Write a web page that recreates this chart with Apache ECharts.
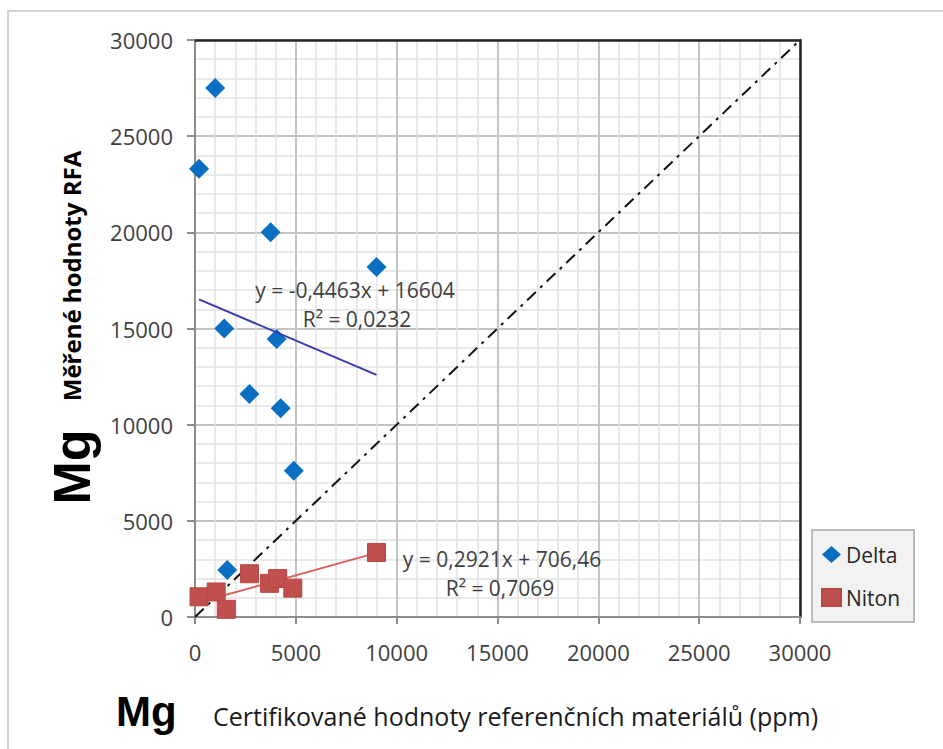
<!DOCTYPE html>
<html>
<head>
<meta charset="utf-8">
<script src="https://cdn.jsdelivr.net/npm/echarts@6/dist/echarts.min.js"></script>
<style>
html,body{margin:0;padding:0;background:#fff;}
#chart{width:943px;height:749px;}
</style>
</head>
<body>
<div id="chart"></div>
<script>
// ---- data ----
const deltaX = [1000, 200, 3750, 9000, 1450, 4050, 2700, 4250, 4900, 1600];
const deltaY = [27500, 23300, 20000, 18200, 15000, 14450, 11600, 10850, 7600, 2450];
const nitonX = [200, 1050, 1550, 2700, 3700, 4100, 4850, 9000];
const nitonY = [1050, 1300, 400, 2250, 1750, 2000, 1500, 3350];
const deltaTrend = [-0.4463, 16604];   // slope, intercept
const nitonTrend = [0.2921, 706.46];
const diagonal = [[0, 0], [30000, 30000]];
const xTicks = [0, 5000, 10000, 15000, 20000, 25000, 30000];
const yTicks = [0, 5000, 10000, 15000, 20000, 25000, 30000];
const deltaEq = ['y = -0,4463x + 16604', 'R² = 0,0232'];
const nitonEq = ['y = 0,2921x + 706,46', 'R² = 0,7069'];
const seriesNames = ['Delta', 'Niton'];
const xTitle = 'Certifikované hodnoty referenčních materiálů (ppm)';
const yTitle = 'Měřené hodnoty RFA';
const elementLabel = 'Mg';

// ---- build ----
const zip = (xs, ys) => xs.map((x, i) => [x, ys[i]]);
const trendPts = (xs, c) => {
  const lo = Math.min.apply(null, xs), hi = Math.max.apply(null, xs);
  return [[lo, c[0] * lo + c[1]], [hi, c[0] * hi + c[1]]];
};
const FONT = '"Open Sans", sans-serif';
const TXT = '#404040';
const axMin = xTicks[0], axMax = xTicks[xTicks.length - 1], axStep = xTicks[1] - xTicks[0];

function mainAxis(pos, tickLen) {
  return {
    type: 'value', position: pos, min: axMin, max: axMax, interval: axStep,
    axisLine: { show: true, onZero: false, lineStyle: { color: '#8c8c8c', width: 2 } },
    axisTick: { show: true, length: tickLen, lineStyle: { color: '#8c8c8c', width: 2 } },
    axisLabel: { fontFamily: FONT, fontSize: 22, color: TXT, margin: 22, formatter: v => String(v) },
    splitLine: { show: true, lineStyle: { color: '#c4c4c4', width: 2 } },
    minorTick: { show: false, splitNumber: 5 },
    minorSplitLine: { show: true, lineStyle: { color: '#e2e2e2', width: 1.5 } }
  };
}
function borderAxis(pos) {
  return {
    type: 'value', position: pos, min: axMin, max: axMax, interval: axStep,
    axisLine: { show: true, onZero: false, lineStyle: { color: '#262626', width: 2.5 } },
    axisTick: { show: false }, axisLabel: { show: false }, splitLine: { show: false }
  };
}

const chart = echarts.init(document.getElementById('chart'), null, { renderer: 'svg' });
const xa = mainAxis('bottom', 7);
const ya = mainAxis('left', 8);
xa.axisLabel.margin = 24;

chart.setOption({
  animation: false,
  backgroundColor: '#ffffff',
  grid: { left: 195, top: 40, width: 605, height: 577, containLabel: false },
  xAxis: [xa, borderAxis('top')],
  yAxis: [ya, borderAxis('right')],
  legend: {
    orient: 'vertical', left: 812, top: 530,
    data: [{ name: seriesNames[0], icon: 'diamond' }, { name: seriesNames[1], icon: 'rect' }],
    itemWidth: 19, itemHeight: 17, itemGap: 22,
    padding: [14, 14, 14, 9],
    backgroundColor: '#f2f2f2', borderColor: '#a6a6a6', borderWidth: 1.5, borderRadius: 0,
    textStyle: { fontFamily: FONT, fontSize: 21, color: '#262626' }
  },
  series: [
    {
      type: 'line', data: diagonal, symbol: 'none', silent: true, z: 3,
      lineStyle: { color: '#111', width: 2, type: [12, 6, 3, 6] }
    },
    {
      name: seriesNames[0], type: 'scatter', data: zip(deltaX, deltaY), symbol: 'diamond',
      symbolSize: 20, itemStyle: { color: '#0a6fc1', opacity: 1 }, z: 4
    },
    {
      name: seriesNames[1], type: 'scatter', data: zip(nitonX, nitonY), symbol: 'rect',
      symbolSize: 18, itemStyle: { color: '#c0504d', borderColor: '#b84743', borderWidth: 1, opacity: 1 }, z: 4
    },
    {
      type: 'line', data: trendPts(deltaX, deltaTrend), symbol: 'none', silent: true, z: 5,
      lineStyle: { color: '#3a3ab4', width: 2 }
    },
    {
      type: 'line', data: trendPts(nitonX, nitonTrend), symbol: 'none', silent: true, z: 3,
      lineStyle: { color: '#d9625d', width: 2 }
    }
  ],
  graphic: [
    { type: 'rect', shape: { x: 8, y: 11, width: 1000, height: 800 }, silent: true, z: -10,
      style: { fill: 'none', stroke: '#d2d2d2', lineWidth: 2 } },
    { type: 'text', x: 355, y: 290, z: 20,
      style: { text: deltaEq[0], font: '21px ' + FONT, fill: TXT, align: 'center', verticalAlign: 'middle' } },
    { type: 'text', x: 357, y: 319, z: 20,
      style: { text: deltaEq[1], font: '21px ' + FONT, fill: TXT, align: 'center', verticalAlign: 'middle' } },
    { type: 'text', x: 502, y: 559, z: 20,
      style: { text: nitonEq[0], font: '21px ' + FONT, fill: TXT, align: 'center', verticalAlign: 'middle' } },
    { type: 'text', x: 500, y: 588, z: 20,
      style: { text: nitonEq[1], font: '21px ' + FONT, fill: TXT, align: 'center', verticalAlign: 'middle' } },
    { type: 'text', x: 71, y: 276, rotation: Math.PI / 2, z: 20,
      style: { text: yTitle, font: 'bold 24px ' + FONT, fill: '#000', align: 'center', verticalAlign: 'middle' } },
    { type: 'text', x: 72, y: 467, rotation: Math.PI / 2, z: 20,
      style: { text: elementLabel, font: 'bold 52px "Liberation Sans", Arial, sans-serif', fill: '#000', align: 'center', verticalAlign: 'middle' } },
    { type: 'text', x: 116, y: 711, z: 20,
      style: { text: elementLabel, font: 'bold 42px "Liberation Sans", Arial, sans-serif', fill: '#000', align: 'left', verticalAlign: 'middle' } },
    { type: 'text', x: 213, y: 716, z: 20,
      style: { text: xTitle, font: '25px ' + FONT, fill: '#1a1a1a', align: 'left', verticalAlign: 'middle' } }
  ]
});
</script>
</body>
</html>
